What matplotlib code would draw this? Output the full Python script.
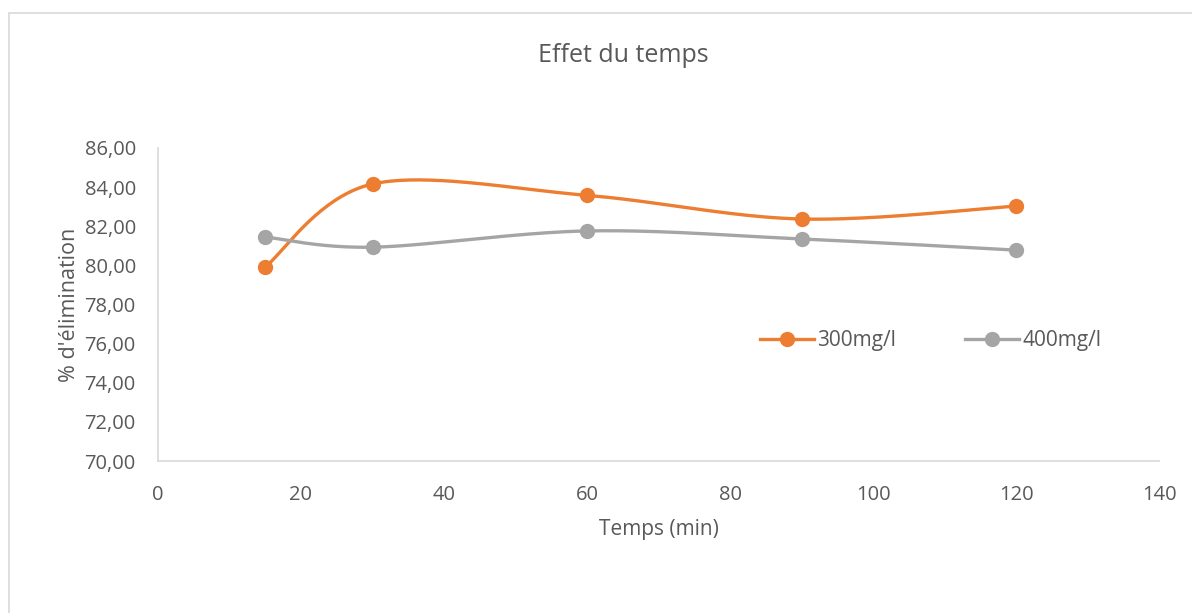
#!/usr/bin/env python3

import numpy as np
import matplotlib.pyplot as plt
from matplotlib.patches import Rectangle
from matplotlib.ticker import FuncFormatter

# Data
temps = [15, 30, 60, 90, 120]
elim_300 = [79.92, 84.16, 83.58, 82.37, 83.03]
elim_400 = [81.45, 80.93, 81.76, 81.35, 80.78]
series_labels = ["300mg/l", "400mg/l"]

X_MIN, X_MAX = 0, 140
Y_MIN, Y_MAX = 70, 86

ORANGE = "#ED7D31"
GRAY = "#A5A5A5"
TEXT = "#595959"

plt.rcParams["font.family"] = ["Open Sans", "DejaVu Sans"]


def smooth_curve(xs, ys, sx, sy, n=40):
    """Excel-like smoothed line (Catmull-Rom as cubic Bezier) in screen-scaled space."""
    px = np.asarray(xs, float) * sx
    py = np.asarray(ys, float) * sy
    pts = np.column_stack([px, py])
    pts = np.vstack([pts[0], pts, pts[-1]])
    out = []
    t = np.linspace(0, 1, n)[:, None]
    for i in range(1, len(pts) - 2):
        p0, p1, p2, p3 = pts[i - 1], pts[i], pts[i + 1], pts[i + 2]
        c1 = p1 + (p2 - p0) / 6
        c2 = p2 - (p3 - p1) / 6
        seg = ((1 - t) ** 3) * p1 + 3 * ((1 - t) ** 2) * t * c1 \
            + 3 * (1 - t) * t ** 2 * c2 + t ** 3 * p2
        out.append(seg if i == 1 else seg[1:])
    out = np.vstack(out)
    return out[:, 0] / sx, out[:, 1] / sy


fig = plt.figure(figsize=(11.92, 6.13), dpi=100)
ax = fig.add_axes([158 / 1192, 1 - 461 / 613, 1001 / 1192, 313 / 613])

# light chart frame
fig.patches.append(Rectangle((9 / 1192, -0.01), 1.0, 1 - 12.5 / 613 + 0.01,
                             transform=fig.transFigure, fill=False,
                             edgecolor="#D9D9D9", linewidth=1.2))

# pixel scale of each axis so the spline is computed in screen space
sx = 1001 / (X_MAX - X_MIN)
sy = 313 / (Y_MAX - Y_MIN)

for ys, color, label in [(elim_300, ORANGE, series_labels[0]),
                         (elim_400, GRAY, series_labels[1])]:
    cx, cy = smooth_curve(temps, ys, sx, sy)
    ax.plot(cx, cy, color=color, linewidth=2.4, solid_capstyle="round", zorder=2)
    ax.plot(temps, ys, "o", color=color, markersize=10, zorder=3)
    ax.plot([], [], "-o", color=color, linewidth=2.4, markersize=10, label=label)

ax.set_xlim(X_MIN, X_MAX)
ax.set_ylim(Y_MIN, Y_MAX)
ax.set_xticks(np.arange(0, 141, 20))
ax.set_yticks(np.arange(70, 87, 2))
ax.yaxis.set_major_formatter(FuncFormatter(lambda v, p: f"{v:.2f}".replace(".", ",")))

for side in ["top", "right"]:
    ax.spines[side].set_visible(False)
for side in ["left", "bottom"]:
    ax.spines[side].set_color("#D9D9D9")
    ax.spines[side].set_linewidth(1.2)
ax.tick_params(length=0, colors=TEXT, labelsize=14.5)
ax.tick_params(axis="y", pad=16)
ax.tick_params(axis="x", pad=17)

fig.text(623 / 1192, 1 - 55 / 613, "Effet du temps", fontsize=18, color=TEXT,
         ha="center", va="center")
ax.set_xlabel("Temps (min)", fontsize=15, color=TEXT, labelpad=10)
ax.set_ylabel("% d'élimination", fontsize=15.5, color=TEXT)
ax.yaxis.set_label_coords(-0.078, 0.5)

ax.legend(loc="center", bbox_to_anchor=(0.772, 0.385), ncol=2, frameon=False,
          fontsize=15, labelcolor=TEXT, handlelength=2.6, handletextpad=0.15,
          columnspacing=3.3)

plt.savefig("out.png", dpi=100)
